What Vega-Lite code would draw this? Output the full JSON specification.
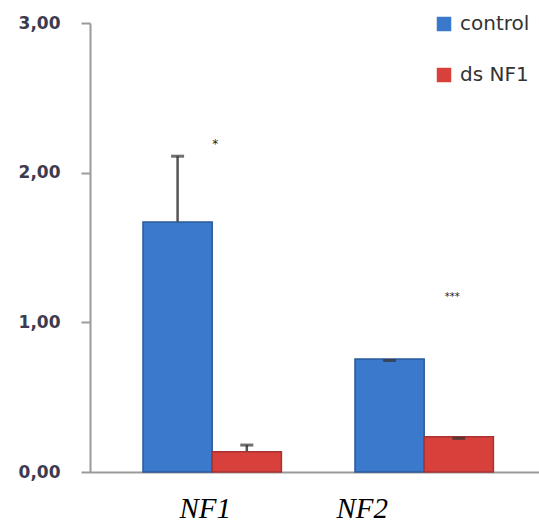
{
  "$schema": "https://vega.github.io/schema/vega-lite/v6.json",
  "width": 449,
  "height": 449,
  "autosize": {"type": "none"},
  "padding": {"left": 90, "top": 23, "right": 0, "bottom": 52},
  "background": "white",
  "config": {"view": {"stroke": null}},
  "datasets": {
    "bars": [
      {"gene": "NF1", "group": "control", "value": 1.67, "upper": 2.11},
      {"gene": "NF1", "group": "ds NF1", "value": 0.135, "upper": 0.18},
      {"gene": "NF2", "group": "control", "value": 0.755, "upper": 0.745},
      {"gene": "NF2", "group": "ds NF1", "value": 0.235, "upper": 0.225}
    ],
    "sig": [
      {"gene": "NF1", "label": "*", "value": 2.19},
      {"gene": "NF2", "label": "***", "value": 1.17}
    ]
  },
  "encoding": {
    "x": {
      "field": "gene", "type": "nominal",
      "scale": {"paddingInner": 0.347, "paddingOuter": 0.2325, "align": 0.5375},
      "axis": {
        "title": null, "labelAngle": 0, "ticks": false,
        "domainColor": "#9a9a9a", "domainWidth": 2,
        "labelFont": "Liberation Serif", "labelFontStyle": "italic",
        "labelFontSize": 29, "labelColor": "#000000", "labelPadding": 22,
        "labelOffset": {"condition": {"test": "datum.value === 'NF1'", "value": -7}, "value": -62}
      }
    }
  },
  "layer": [
    {
      "data": {"name": "bars"},
      "mark": {"type": "bar", "strokeWidth": 1.5},
      "encoding": {
        "xOffset": {"field": "group", "type": "nominal", "scale": {"paddingInner": 0, "paddingOuter": 0}},
        "y": {
          "field": "value", "type": "quantitative",
          "scale": {"domain": [0, 3], "nice": false},
          "axis": {
            "title": null, "values": [0, 1, 2, 3], "grid": false,
            "labelExpr": "replace(format(datum.value, '.2f'), '.', ',')",
            "domainColor": "#9a9a9a", "domainWidth": 2,
            "tickColor": "#9a9a9a", "tickWidth": 2, "tickSize": 9,
            "labelPadding": 21, "labelFont": "DejaVu Sans", "labelFontWeight": "bold",
            "labelFontSize": 17, "labelColor": "#3d3b4f"
          }
        },
        "color": {
          "field": "group", "type": "nominal",
          "scale": {"domain": ["control", "ds NF1"], "range": ["#3a79cc", "#d8413b"]},
          "legend": {
            "title": null, "orient": "none", "legendX": 344, "legendY": -9,
            "symbolType": "square", "symbolSize": 210, "symbolStrokeWidth": 0,
            "labelFont": "DejaVu Sans", "labelFontSize": 20, "labelColor": "#333333",
            "labelOffset": 6, "rowPadding": 31
          }
        },
        "stroke": {
          "condition": {"test": "datum.group === 'control'", "value": "#2a5a9c"},
          "value": "#a83232"
        }
      }
    },
    {
      "data": {"name": "bars"},
      "mark": {"type": "rule", "color": "#555555", "strokeWidth": 2.5},
      "encoding": {
        "xOffset": {"field": "group", "type": "nominal"},
        "y": {"field": "value", "type": "quantitative"},
        "y2": {"field": "upper"}
      }
    },
    {
      "data": {"name": "bars"},
      "mark": {"type": "tick", "orient": "horizontal", "size": 13, "thickness": 3, "color": "#333333"},
      "encoding": {
        "xOffset": {"field": "group", "type": "nominal"},
        "y": {"field": "upper", "type": "quantitative"}
      }
    },
    {
      "data": {"name": "sig"},
      "transform": [{"filter": "datum.gene === 'NF1'"}],
      "mark": {"type": "text", "fontSize": 12, "font": "DejaVu Sans", "color": "#222222", "dx": 3},
      "encoding": {
        "y": {"field": "value", "type": "quantitative"},
        "text": {"field": "label"}
      }
    },
    {
      "data": {"name": "sig"},
      "transform": [{"filter": "datum.gene === 'NF2'"}],
      "mark": {"type": "text", "fontSize": 10, "font": "DejaVu Sans", "color": "#222222", "dx": 28},
      "encoding": {
        "y": {"field": "value", "type": "quantitative"},
        "text": {"field": "label"}
      }
    }
  ]
}
